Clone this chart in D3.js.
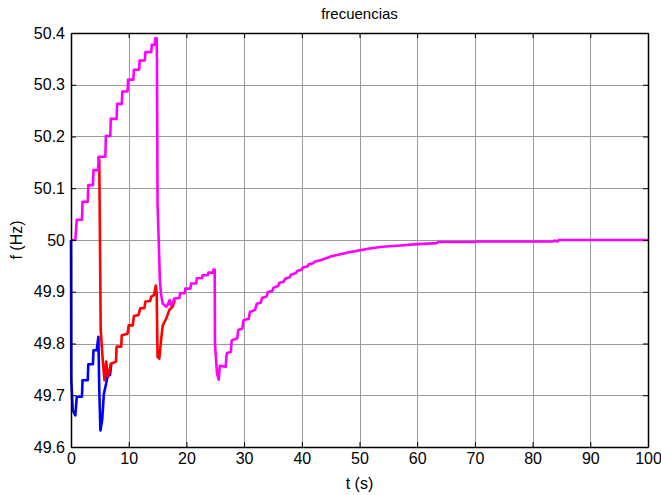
<!DOCTYPE html>
<html>
<head>
<meta charset="utf-8">
<script src="https://cdn.jsdelivr.net/npm/d3@7"></script>
<style>
  html, body { margin: 0; padding: 0; background: #fff; }
  svg { display: block; }
  text { font-family: "Liberation Sans", Arial, sans-serif; }
</style>
</head>
<body>
<svg id="chart" width="661" height="495"></svg>
<script>
// ---- Data ----
const xTicks = [0, 10, 20, 30, 40, 50, 60, 70, 80, 90, 100];
const yTicks = [49.6, 49.7, 49.8, 49.9, 50.0, 50.1, 50.2, 50.3, 50.4];
const yTickLabels = ["49.6", "49.7", "49.8", "49.9", "50", "50.1", "50.2", "50.3", "50.4"];

const blueT = [0, 0.05, 0.3, 0.75, 1.0, 1.9, 2.0, 2.9, 3.0, 3.8, 3.9, 4.45, 4.75, 4.9, 5.1, 5.4, 5.7, 6.1, 6.4, 6.76, 7.0];
const blueF = [50.0, 49.73, 49.671, 49.661, 49.697, 49.697, 49.729, 49.729, 49.76, 49.76, 49.787, 49.787, 49.813, 49.71, 49.632, 49.652, 49.703, 49.723, 49.742, 49.739, 49.762];

const redT = [4.7, 4.9, 5.15, 5.5, 5.8, 6.1, 6.4, 6.6, 6.9, 7.8, 7.9, 8.7, 8.8, 9.8, 10.0, 10.7, 10.9, 11.7, 12.0, 12.7, 12.9, 13.7, 13.9, 14.4, 14.7, 14.85, 15.0, 15.3, 15.6, 15.9, 16.5, 17.05, 17.6, 18.0];
const redF = [50.161, 50.155, 49.826, 49.768, 49.729, 49.765, 49.735, 49.742, 49.761, 49.765, 49.794, 49.794, 49.816, 49.819, 49.835, 49.835, 49.853, 49.855, 49.868, 49.868, 49.881, 49.882, 49.89, 49.894, 49.912, 49.897, 49.774, 49.771, 49.806, 49.835, 49.848, 49.865, 49.871, 49.884];

const magT = [0, 0.75, 1.0, 1.9, 2.0, 2.9, 3.0, 3.8, 3.9, 4.7, 4.8, 5.95, 6.05, 6.8, 6.9, 7.9, 8.0, 8.8, 8.9, 9.8, 9.9, 10.8, 10.9, 11.8, 11.9, 12.8, 12.9, 13.9, 14.0, 14.5, 14.6, 14.85,
  14.9, 15.0, 15.2, 15.4, 15.6, 15.9, 16.5, 16.8, 17.1, 17.3, 17.6, 17.9, 18.8, 18.9, 19.7, 19.8, 20.7, 20.8, 21.7, 21.8, 22.7, 22.8, 23.7, 23.8, 24.6, 24.7, 24.9,
  24.95, 25.3, 25.6, 25.8, 26.8, 27.0, 27.7, 27.85, 28.8, 29.0, 29.7, 29.9, 30.8, 31.0, 31.9, 32.2, 32.9, 33.1, 33.9, 34.1, 34.9, 35.1, 35.9, 36.1, 36.9, 37.1, 37.9, 38.1, 39.0, 39.2, 40.0, 40.2, 41.0, 41.2, 42.0, 42.2,
  43.5, 45, 46.5, 48, 50, 52, 54, 56.5, 60, 63.4, 63.6, 70, 70.2, 83.5, 83.8, 84.3, 84.5, 100];
const magF = [50.0, 50.0, 50.039, 50.039, 50.074, 50.074, 50.106, 50.106, 50.135, 50.135, 50.161, 50.161, 50.201, 50.201, 50.234, 50.234, 50.263, 50.263, 50.287, 50.287, 50.31, 50.31, 50.329, 50.329, 50.347, 50.347, 50.363, 50.363, 50.377, 50.377, 50.39, 50.39,
  50.345, 50.07, 50.0, 49.923, 49.895, 49.877, 49.871, 49.876, 49.884, 49.874, 49.878, 49.887, 49.888, 49.897, 49.897, 49.906, 49.906, 49.916, 49.916, 49.926, 49.926, 49.932, 49.932, 49.937, 49.937, 49.943, 49.943,
  49.80, 49.742, 49.73, 49.757, 49.755, 49.781, 49.784, 49.806, 49.81, 49.826, 49.829, 49.845, 49.848, 49.861, 49.865, 49.877, 49.879, 49.888, 49.891, 49.899, 49.902, 49.908, 49.911, 49.917, 49.92, 49.925, 49.928, 49.933, 49.936, 49.94, 49.943, 49.947, 49.949, 49.953, 49.955, 49.958,
  49.962, 49.968, 49.972, 49.976, 49.98, 49.984, 49.987, 49.989, 49.992, 49.994, 49.996, 49.996, 49.997, 49.997, 49.999, 49.997, 50.0, 50.0];

const seriesList = [
  { t: blueT, f: blueF, color: "#0000ff" },
  { t: redT, f: redF, color: "#ff0000" },
  { t: magT, f: magF, color: "#ff00ff" }
];

// ---- Layout ----
const pLeft = 71, pRight = 648, pTop = 33, pBottom = 447;
const svg = d3.select("#chart");
const x = d3.scaleLinear().domain([0, 100]).range([pLeft, pRight]);
const y = d3.scaleLinear().domain([49.6, 50.4]).range([pBottom, pTop]);

// grid
const grid = svg.append("g").attr("stroke", "#9a9a9a").attr("stroke-width", 1).attr("shape-rendering", "crispEdges");
grid.selectAll("line.vx").data(xTicks.slice(1, -1)).join("line")
  .attr("x1", d => Math.round(x(d)) + 0.5).attr("x2", d => Math.round(x(d)) + 0.5)
  .attr("y1", pTop).attr("y2", pBottom);
grid.selectAll("line.hy").data(yTicks.slice(1, -1)).join("line")
  .attr("x1", pLeft).attr("x2", pRight)
  .attr("y1", d => Math.round(y(d)) + 0.5).attr("y2", d => Math.round(y(d)) + 0.5);

// lines
const line = d3.line().x(d => x(d[0])).y(d => y(d[1]));
seriesList.forEach(s => {
  const pts = s.t.map((t, i) => [t, s.f[i]]);
  svg.append("path").datum(pts)
    .attr("fill", "none").attr("stroke", s.color)
    .attr("stroke-width", 2.6).attr("stroke-linejoin", "round")
    .attr("d", line);
});

// axes
const fontSize = 16;
const axB = svg.append("g").attr("transform", `translate(0,${pBottom})`)
  .call(d3.axisBottom(x).tickValues(xTicks).tickFormat(d3.format("d")).tickSizeInner(-5).tickSizeOuter(0).tickPadding(6));
const axT = svg.append("g").attr("transform", `translate(0,${pTop})`)
  .call(d3.axisTop(x).tickValues(xTicks).tickFormat("").tickSizeInner(-5).tickSizeOuter(0));
const axL = svg.append("g").attr("transform", `translate(${pLeft},0)`)
  .call(d3.axisLeft(y).tickValues(yTicks).tickFormat((d, i) => yTickLabels[i]).tickSizeInner(-5).tickSizeOuter(0).tickPadding(6));
const axR = svg.append("g").attr("transform", `translate(${pRight},0)`)
  .call(d3.axisRight(y).tickValues(yTicks).tickFormat("").tickSizeInner(-5).tickSizeOuter(0));
[axB, axT, axL, axR].forEach(a => {
  a.select(".domain").attr("stroke", "#000").attr("stroke-width", 1.5);
  a.selectAll(".tick line").attr("stroke", "#000").attr("stroke-width", 1);
  a.selectAll("text").attr("font-size", fontSize).attr("fill", "#000")
    .attr("font-family", "'Liberation Sans', Arial, sans-serif");
});

// titles
svg.append("text").attr("x", (pLeft + pRight) / 2).attr("y", 19)
  .attr("text-anchor", "middle").attr("font-size", 15).text("frecuencias");
svg.append("text").attr("x", (pLeft + pRight) / 2).attr("y", 489)
  .attr("text-anchor", "middle").attr("font-size", fontSize).text("t (s)");
svg.append("text").attr("transform", `translate(22,${(pTop + pBottom) / 2}) rotate(-90)`)
  .attr("text-anchor", "middle").attr("font-size", fontSize).text("f (Hz)");
</script>
</body>
</html>
